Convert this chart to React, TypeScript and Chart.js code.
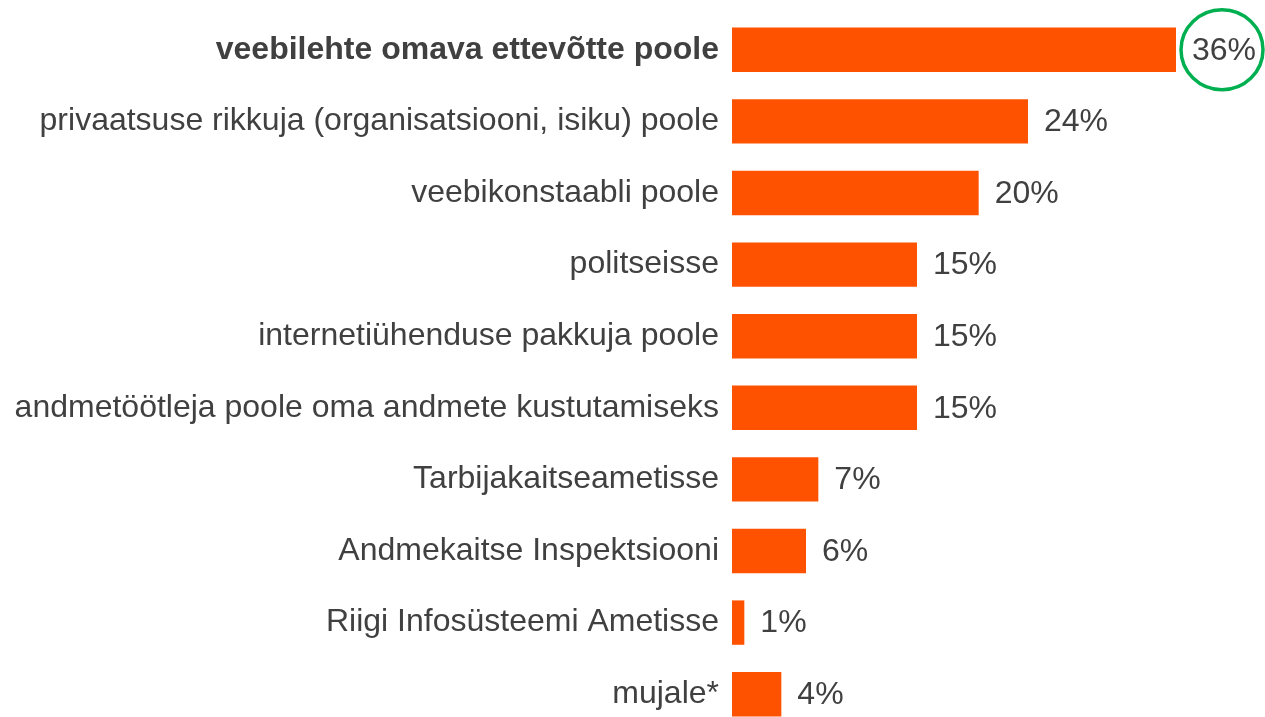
import React, { useEffect, useRef } from "react";
import { Chart, registerables } from "chart.js";

Chart.register(...registerables);

const categories = [
  "veebilehte omava ettevõtte poole",
  "privaatsuse rikkuja (organisatsiooni, isiku) poole",
  "veebikonstaabli poole",
  "politseisse",
  "internetiühenduse pakkuja poole",
  "andmetöötleja poole oma andmete kustutamiseks",
  "Tarbijakaitseametisse",
  "Andmekaitse Inspektsiooni",
  "Riigi Infosüsteemi Ametisse",
  "mujale*",
];
const values = [36, 24, 20, 15, 15, 15, 7, 6, 1, 4];
const highlightIndex = 0;

const FONT = "'Liberation Sans', Arial, sans-serif";
const TEXT = "#404040";
const BAR = "#FF5200";
const GREEN = "#00B050";

const labelPlugin = {
  id: "valueLabels",
  afterDatasetsDraw(chart: any) {
    const ctx = chart.ctx;
    const meta = chart.getDatasetMeta(0);
    ctx.save();
    ctx.font = `32px ${FONT}`;
    ctx.fillStyle = TEXT;
    ctx.textBaseline = "middle";
    ctx.textAlign = "left";
    meta.data.forEach((bar: any, i: number) => {
      const v = chart.data.datasets[0].data[i];
      ctx.fillText(`${v}%`, bar.x + 16, bar.y + 1);
      if (i === highlightIndex) {
        ctx.beginPath();
        ctx.strokeStyle = GREEN;
        ctx.lineWidth = 3.5;
        ctx.ellipse(bar.x + 46, bar.y, 41, 40, 0, 0, Math.PI * 2);
        ctx.stroke();
      }
    });
    ctx.restore();
  },
};

export default function App() {
  const ref = useRef<HTMLCanvasElement>(null);
  useEffect(() => {
    if (!ref.current) return;
    const chart = new Chart(ref.current, {
      type: "bar",
      data: {
        labels: categories,
        datasets: [
          {
            data: values,
            backgroundColor: BAR,
            barPercentage: 0.62,
            categoryPercentage: 1,
          },
        ],
      },
      options: {
        indexAxis: "y",
        animation: false,
        responsive: true,
        maintainAspectRatio: false,
        layout: { padding: { top: 14, right: 89, bottom: 0, left: 0 } },
        plugins: { legend: { display: false }, tooltip: { enabled: false } },
        scales: {
          x: { display: false, min: 0, max: 36 },
          y: {
            grid: { display: false, drawTicks: false },
            border: { display: false },
            afterFit: (scale: any) => {
              scale.width = 732;
              scale.paddingTop = 0;
              scale.paddingBottom = 0;
            },
            ticks: {
              padding: 13,
              color: TEXT,
              font: (c: any) => ({
                family: FONT,
                size: 32,
                weight: c.index === highlightIndex ? "bold" : "normal",
              }),
            },
          },
        },
      },
      plugins: [labelPlugin],
    });
    return () => chart.destroy();
  }, []);
  return (
    <div
      style={{
        position: "fixed",
        top: 0,
        left: 0,
        width: 1265,
        height: 717,
        overflow: "hidden",
        background: "#fff",
      }}
    >
      <div style={{ position: "relative", width: 1265, height: 730 }}>
        <canvas ref={ref} />
      </div>
    </div>
  );
}
